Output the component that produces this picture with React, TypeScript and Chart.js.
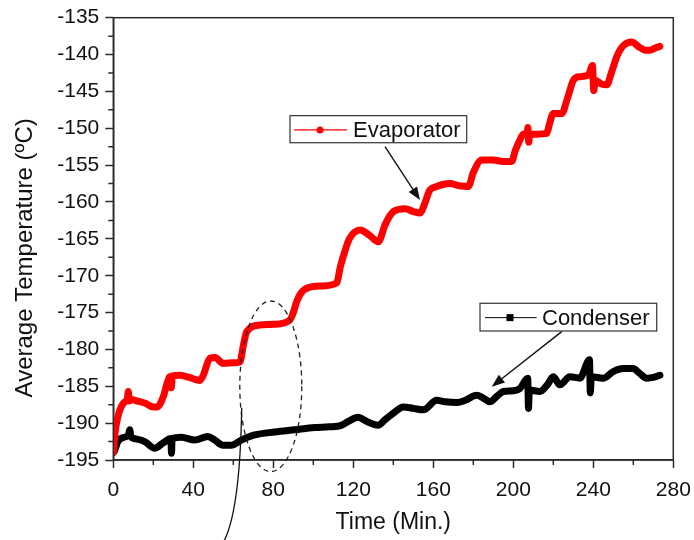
import React, { useEffect, useRef } from "react";
import { Chart, registerables } from "chart.js";

Chart.register(...registerables);

// ---- data ----
const evapTime = [
  0, 1, 2, 3.3, 5.8, 7, 7.5, 8, 9.2, 12, 16, 20, 22, 25, 27, 28.3, 29, 29.5, 33.3, 38, 43.3, 45,
  48.3, 50.8, 55, 60, 63.3, 65, 66.7, 73.3, 80, 88.3, 90, 91.7, 94, 96.7, 104, 111.7, 113.5, 116,
  118, 123.4, 128, 132.5, 136, 140, 145.9, 150, 153.3, 156, 158, 161.7, 168.3, 173, 177.5, 180,
  184.2, 190, 195, 199.2, 201, 203.3, 205, 207, 207.3, 207.7, 208.2, 212, 216.7, 218, 220, 224.2,
  227, 230, 233, 237.5, 239.6, 240.2, 241, 244, 246.7, 249, 251.7, 255, 259.2, 263, 266, 268.3,
  271, 273.3,
];
const evapTemp = [
  -193.9, -191, -189.5, -188.2, -187.1, -186.8, -185.7, -187, -186.8, -187, -187.3, -187.8, -187.8,
  -186.4, -184.5, -183.7, -185.2, -183.6, -183.5, -183.8, -184.2, -183.5, -181.2, -181.1, -181.9,
  -181.8, -181.7, -179.5, -177.6, -176.7, -176.6, -176.0, -175, -173.5, -172.3, -171.7, -171.4,
  -171.0, -168.8, -166.5, -165, -163.8, -164.5, -165.4, -163, -161.3, -160.9, -161.3, -161.5, -160,
  -158.5, -157.9, -157.5, -157.8, -157.9, -156, -154.3, -154.3, -154.5, -154.5, -153, -151.6,
  -150.8, -150.8, -149.9, -151.9, -150.8, -150.8, -150.7, -149.5, -148, -148, -146, -143.5, -143,
  -142.8, -141.5, -144.9, -143.5, -144, -144.1, -142.5, -140.3, -138.8, -138.3, -139, -139.4,
  -139.4, -139.1, -138.9,
];
const condTime = [
  0, 0.7, 2.3, 5.7, 7.6, 8.2, 8.8, 10.7, 15.7, 20.7, 24.8, 28.8, 29.1, 29.4, 34, 40.7, 47.3, 50.7,
  54.8, 59, 64, 70.7, 80.7, 90.7, 100.7, 108, 114, 118, 122.3, 127, 132.3, 136, 140.7, 145, 150,
  155, 161.7, 166, 171.7, 176, 181.7, 185, 188.3, 192, 195, 200, 203.3, 207.2, 207.6, 208, 213.3,
  217, 220, 223.3, 228.3, 233.3, 238.1, 238.5, 239, 245, 250, 255, 260, 263, 266.7, 270, 273.3,
];
const condTemp = [
  -194.0, -193.7, -192.5, -191.9, -191.6, -190.9, -191.8, -192.1, -192.5, -193.4, -192.7, -192.1,
  -194.1, -192.1, -191.9, -192.3, -191.8, -192.3, -193.0, -193.0, -192.3, -191.6, -191.2, -190.9,
  -190.6, -190.5, -190.3, -189.7, -189.2, -189.8, -190.3, -189.5, -188.5, -187.8, -188, -188.2,
  -186.9, -187.1, -187.2, -186.9, -186.2, -186.6, -187.1, -186.3, -185.7, -185.6, -185.3, -183.9,
  -188, -185.5, -185.7, -184.8, -183.7, -184.8, -183.7, -183.9, -181.4, -185.9, -183.7, -183.9,
  -183, -182.6, -182.6, -183.2, -183.9, -183.8, -183.5,
];
const seriesLabels = ["Evaporator", "Condenser"];
const xTickValues = [0, 40, 80, 120, 160, 200, 240, 280];
const xMinorTicks = [20, 60, 100, 140, 180, 220, 260];
const yTickValues = [-195, -190, -185, -180, -175, -170, -165, -160, -155, -150, -145, -140, -135];
const yMinorTicks = [
  -192.5, -187.5, -182.5, -177.5, -172.5, -167.5, -162.5, -157.5, -152.5, -147.5, -142.5, -137.5,
];
const xTitle = "Time (Min.)";
const yTitle = "Average Temperature (ºC)";

const FONT = "Arial, 'Liberation Sans', Helvetica, sans-serif";
const RED = "#ff0000";
const BLACK = "#000000";
const AXIS = "#2a2a2a";

function drawArrow(ctx: CanvasRenderingContext2D, x1: number, y1: number, x2: number, y2: number) {
  const ang = Math.atan2(y2 - y1, x2 - x1);
  const hl = 13;
  const hw = 5;
  ctx.beginPath();
  ctx.moveTo(x1, y1);
  ctx.lineTo(x2 - Math.cos(ang) * hl * 0.8, y2 - Math.sin(ang) * hl * 0.8);
  ctx.stroke();
  ctx.beginPath();
  ctx.moveTo(x2, y2);
  ctx.lineTo(x2 - Math.cos(ang) * hl - Math.sin(ang) * hw, y2 - Math.sin(ang) * hl + Math.cos(ang) * hw);
  ctx.lineTo(x2 - Math.cos(ang) * hl + Math.sin(ang) * hw, y2 - Math.sin(ang) * hl - Math.cos(ang) * hw);
  ctx.closePath();
  ctx.fill();
}

const annotationPlugin = {
  id: "annotations",
  afterDraw(chart: any) {
    const { ctx, chartArea: ca } = chart;
    const xs = chart.scales.x;
    const ys = chart.scales.y;
    const X = (v: number) => xs.getPixelForValue(v);
    const Y = (v: number) => ys.getPixelForValue(v);
    ctx.save();

    // frame
    ctx.strokeStyle = AXIS;
    ctx.lineWidth = 1.5;
    ctx.strokeRect(ca.left, ca.top, ca.right - ca.left, ca.bottom - ca.top);

    // minor ticks
    ctx.beginPath();
    xMinorTicks.forEach((v) => {
      const px = X(v);
      ctx.moveTo(px, ca.bottom);
      ctx.lineTo(px, ca.bottom + 5);
    });
    yMinorTicks.forEach((v) => {
      const py = Y(v);
      ctx.moveTo(ca.left, py);
      ctx.lineTo(ca.left - 5, py);
    });
    ctx.stroke();

    // dashed ellipse
    ctx.setLineDash([5, 4]);
    ctx.lineWidth = 1.3;
    ctx.strokeStyle = "#222";
    ctx.beginPath();
    const cx = X(78.75), cy = Y(-185.0);
    ctx.ellipse(cx, cy, Math.abs(X(78.75 + 15.5) - cx), Math.abs(Y(-185.0 + 11.57) - cy), 0, 0, Math.PI * 2);
    ctx.stroke();
    ctx.setLineDash([]);

    // curved pointer line
    ctx.lineWidth = 1.3;
    ctx.strokeStyle = "#111";
    ctx.beginPath();
    ctx.moveTo(X(64.2), Y(-187.94));
    ctx.quadraticCurveTo(X(63.35), Y(-201.78), X(55.35), Y(-205.99));
    ctx.stroke();

    // legend boxes
    ctx.font = `22px ${FONT}`;
    ctx.textBaseline = "middle";
    ctx.textAlign = "left";
    // Evaporator
    {
      const l = X(88.35), r = X(176.7), t = Y(-148.29), b = Y(-151.96);
      ctx.fillStyle = "#fff";
      ctx.fillRect(l, t, r - l, b - t);
      ctx.strokeStyle = "#333";
      ctx.lineWidth = 1.2;
      ctx.strokeRect(l, t, r - l, b - t);
      const ly = Y(-150.22);
      ctx.strokeStyle = RED;
      ctx.lineWidth = 1.2;
      ctx.beginPath();
      ctx.moveTo(X(90.35), ly);
      ctx.lineTo(X(116.85), ly);
      ctx.stroke();
      ctx.fillStyle = RED;
      ctx.beginPath();
      ctx.arc(X(103.35), ly, 3.5, 0, Math.PI * 2);
      ctx.fill();
      ctx.fillStyle = "#111";
      ctx.fillText(seriesLabels[0], X(119.85), ly + 1);
    }
    // Condenser
    {
      const l = X(183.35), r = X(271.7), t = Y(-173.74), b = Y(-177.5);
      ctx.fillStyle = "#fff";
      ctx.fillRect(l, t, r - l, b - t);
      ctx.strokeStyle = "#333";
      ctx.lineWidth = 1.2;
      ctx.strokeRect(l, t, r - l, b - t);
      const ly = Y(-175.69);
      ctx.strokeStyle = BLACK;
      ctx.lineWidth = 1;
      ctx.beginPath();
      ctx.moveTo(X(185.85), ly);
      ctx.lineTo(X(211.7), ly);
      ctx.stroke();
      ctx.fillStyle = BLACK;
      ctx.fillRect(X(198.35) - 3.5, ly - 3.5, 7, 7);
      ctx.fillStyle = "#111";
      ctx.fillText(seriesLabels[1], X(214.35), ly + 1);
    }

    // arrows
    ctx.strokeStyle = "#111";
    ctx.fillStyle = "#111";
    ctx.lineWidth = 1.4;
    drawArrow(ctx, X(135.85), Y(-152.5), X(153.35), Y(-159.73));
    drawArrow(ctx, X(224.2), Y(-177.59), X(189.2), Y(-185.05));

    // y-axis title
    ctx.save();
    ctx.translate(32, (ca.top + ca.bottom) / 2 + 19);
    ctx.rotate(-Math.PI / 2);
    ctx.font = `24px ${FONT}`;
    ctx.fillStyle = "#111";
    ctx.textAlign = "center";
    ctx.textBaseline = "alphabetic";
    ctx.fillText(yTitle, 0, 0);
    ctx.restore();

    ctx.restore();
  },
};

export default function App() {
  const ref = useRef<HTMLCanvasElement | null>(null);

  useEffect(() => {
    if (!ref.current) return;
    const lineStyle = {
      borderWidth: 7,
      pointRadius: 0,
      cubicInterpolationMode: "monotone" as const,
      borderJoinStyle: "round" as const,
      borderCapStyle: "round" as const,
    };
    const chart = new Chart(ref.current, {
      type: "line",
      data: {
        datasets: [
          {
            label: seriesLabels[0],
            data: evapTime.map((t, i) => ({ x: t, y: evapTemp[i] })),
            borderColor: RED,
            backgroundColor: RED,
            ...lineStyle,
          },
          {
            label: seriesLabels[1],
            data: condTime.map((t, i) => ({ x: t, y: condTemp[i] })),
            borderColor: BLACK,
            backgroundColor: BLACK,
            ...lineStyle,
          },
        ],
      },
      options: {
        animation: false,
        responsive: true,
        maintainAspectRatio: false,
        layout: { padding: { left: 0, right: 20.7, top: 17.7, bottom: 0 } },
        plugins: {
          legend: { display: false },
          tooltip: { enabled: false },
        },
        scales: {
          x: {
            type: "linear",
            min: 0,
            max: 280,
            afterBuildTicks: (s: any) => {
              s.ticks = xTickValues.map((v) => ({ value: v }));
            },
            afterFit: (s: any) => {
              s.height = 80;
              s.paddingLeft = 0;
              s.paddingRight = 0;
            },
            grid: {
              drawOnChartArea: false,
              drawTicks: true,
              tickLength: 8,
              tickColor: AXIS,
              tickWidth: 1.5,
            },
            border: { display: true, color: AXIS, width: 1.5 },
            ticks: {
              padding: 10,
              color: "#111",
              font: { family: FONT, size: 21 },
              maxRotation: 0,
              autoSkip: false,
            },
            title: {
              display: true,
              text: xTitle,
              color: "#111",
              font: { family: FONT, size: 23, lineHeight: 1.2 },
              padding: { top: 0, bottom: 4 },
            },
          },
          y: {
            type: "linear",
            min: -195,
            max: -135,
            afterBuildTicks: (s: any) => {
              s.ticks = yTickValues.map((v) => ({ value: v }));
            },
            afterFit: (s: any) => {
              s.width = 113.3;
              s.paddingTop = 0;
              s.paddingBottom = 0;
            },
            grid: {
              drawOnChartArea: false,
              drawTicks: true,
              tickLength: 8,
              tickColor: AXIS,
              tickWidth: 1.5,
            },
            border: { display: true, color: AXIS, width: 1.5 },
            ticks: {
              padding: 6,
              color: "#111",
              font: { family: FONT, size: 21 },
              autoSkip: false,
            },
          },
        },
      },
      plugins: [annotationPlugin],
    });
    return () => chart.destroy();
  }, []);

  return (
    <div style={{ position: "fixed", left: 0, top: 0, width: 694, height: 540 }}>
      <canvas ref={ref} />
    </div>
  );
}
